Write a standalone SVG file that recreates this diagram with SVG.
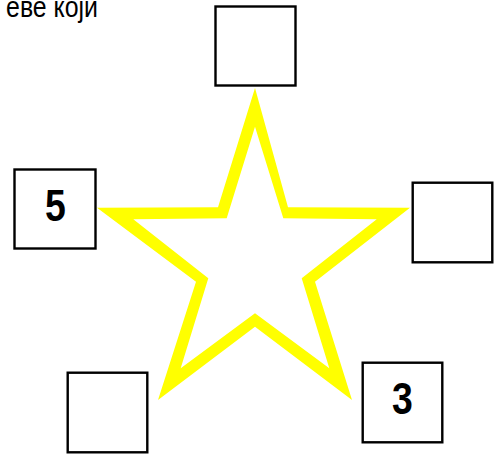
<svg xmlns="http://www.w3.org/2000/svg" width="501" height="455" viewBox="0 0 501 455">
<style>
.box{fill:#fff;stroke:#000;stroke-width:2.4}
.num{font-family:"Liberation Sans",Arial,sans-serif;font-weight:bold;font-size:44px;text-anchor:middle;fill:#000}
.cap{font-family:"Liberation Sans",Arial,sans-serif;font-size:30px;fill:#000;text-anchor:end}
</style>
<rect width="501" height="455" fill="#fff"/>
<text class="cap" transform="translate(98,16.7) scale(0.83,1)">еве који</text>
<g id="star">
<path fill="#ffff00" fill-rule="evenodd" d="M255,88 L288,207.3 L410,207.8 L315,281.7 L352,400 L255,326.7 L158,400 L196,281.7 L97,207.8 L218,207.3 Z M255,126.7 L283.3,218.3 L376.7,219.3 L301.7,278.3 L329.3,368.3 L255,313.3 L180.7,368.3 L208.3,278.3 L133.3,219.3 L226.7,218.3 Z"/>
</g>
<g id="box-top"><rect class="box" x="215.5" y="6.5" width="80" height="79"/></g>
<g id="box-left"><rect class="box" x="14.5" y="169.5" width="81" height="79"/><text class="num" transform="translate(55.5,221) scale(0.85,1)">5</text></g>
<g id="box-right"><rect class="box" x="412.7" y="182.7" width="79.6" height="79.6"/></g>
<g id="box-bottom-left"><rect class="box" x="67.7" y="372.7" width="79.6" height="79.6"/></g>
<g id="box-bottom-right"><rect class="box" x="362.7" y="362.7" width="79.6" height="79.6"/><text class="num" transform="translate(402.5,414) scale(0.85,1)">3</text></g>
<g id="connectors"></g>
</svg>
